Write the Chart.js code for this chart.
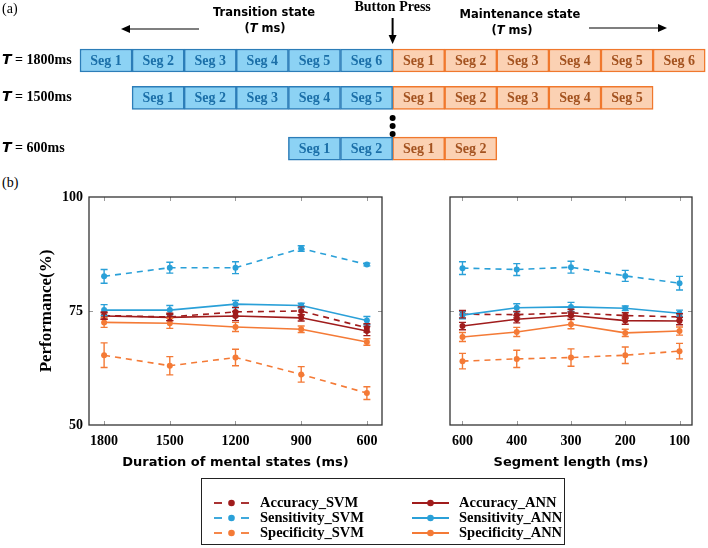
<!DOCTYPE html>
<html>
<head>
<meta charset="utf-8">
<script src="https://cdn.jsdelivr.net/npm/chart.js@4.4.1/dist/chart.umd.min.js"></script>
<style>
  html, body { margin: 0; padding: 0; background: #fff; }
  #page { position: relative; width: 708px; height: 548px; overflow: hidden; }
  canvas { position: absolute; }
  #panelB { position: absolute; left: 2px; top: 175px; font: 14px 'Liberation Serif', serif; color: #000; }
  #legend {
    position: absolute; left: 201px; top: 478px; width: 364px; height: 67px;
    border: 1px solid #222; box-sizing: border-box;
    font-family: 'Liberation Serif', serif; font-weight: bold; font-size: 14.5px; color: #000;
  }
  .item { position: absolute; height: 15px; line-height: 15px; white-space: nowrap; }
  .item svg { position: absolute; left: 0; top: 1px; }
  .item span { position: absolute; left: 47px; }
</style>
</head>
<body>
<div id="page">
  <canvas id="diagram" width="708" height="175" style="left:0;top:0"></canvas>
  <div id="panelB">(b)</div>
  <canvas id="leftChart" width="390" height="300" style="left:0;top:180px"></canvas>
  <canvas id="rightChart" width="318" height="300" style="left:390px;top:180px"></canvas>
  <div id="legend"></div>
</div>
<script>
// ---- panel (a): segments ----
const rowNames = ['1800ms', '1500ms', '600ms'];
const segCounts = [6, 5, 2];
const rowLevels = [0, 1, 2.36];
const pressAt = 6;

// ---- panel (b): performance ----
const xLeft = ['1800', '1500', '1200', '900', '600'];
const xRight = ['600', '400', '300', '200', '100'];

const accSvmL = [74.0, 73.7, 74.8, 75.0, 71.3];
const accSvmLErr = [0.8, 0.8, 1.0, 0.9, 0.9];
const accAnnL = [73.9, 73.6, 73.9, 73.5, 70.6];
const accAnnLErr = [0.7, 0.7, 1.0, 0.7, 1.0];
const senSvmL = [82.6, 84.5, 84.5, 88.7, 85.2];
const senSvmLErr = [1.5, 1.2, 1.3, 0.6, 0.3];
const senAnnL = [75.2, 75.2, 76.5, 76.2, 72.9];
const senAnnLErr = [1.2, 1.0, 0.8, 0.5, 0.9];
const speSvmL = [65.3, 63.0, 64.8, 61.1, 57.0];
const speSvmLErr = [2.7, 2.0, 1.8, 1.7, 1.4];
const speAnnL = [72.5, 72.3, 71.5, 71.0, 68.2];
const speAnnLErr = [1.1, 1.1, 1.0, 0.7, 0.7];

const accSvmR = [74.3, 74.2, 74.6, 74.0, 73.7];
const accSvmRErr = [0.8, 0.7, 0.8, 0.6, 0.7];
const accAnnR = [71.7, 73.2, 74.0, 72.9, 72.8];
const accAnnRErr = [0.8, 0.8, 0.8, 0.8, 0.8];
const senSvmR = [84.4, 84.1, 84.6, 82.7, 81.1];
const senSvmRErr = [1.4, 1.3, 1.3, 1.2, 1.5];
const senAnnR = [74.1, 75.7, 75.9, 75.6, 74.5];
const senAnnRErr = [0.8, 0.9, 1.0, 0.5, 0.7];
const speSvmR = [64.0, 64.5, 64.8, 65.3, 66.2];
const speSvmRErr = [1.7, 1.9, 1.9, 1.8, 1.7];
const speAnnR = [69.3, 70.4, 72.1, 70.2, 70.6];
const speAnnRErr = [1.0, 1.0, 1.0, 0.8, 0.9];

const RED = '#a01c1c';
const BLUE = '#2aa0d8';
const ORANGE = '#f47a36';
const SERIF = "'Liberation Serif', 'Times New Roman', serif";
const SANS = "'DejaVu Sans', sans-serif";

// ================= panel (a) =================
const transBars = [];
const maintBars = [];
segCounts.forEach((n, r) => {
  for (let k = 0; k < n; k++) {
    transBars.push({ x: [pressAt - n + k, pressAt - n + k + 1], y: rowLevels[r], seg: k + 1 });
    maintBars.push({ x: [pressAt + k, pressAt + k + 1], y: rowLevels[r], seg: k + 1 });
  }
});

function arrow(ctx, x1, y1, x2, y2) {
  const a = Math.atan2(y2 - y1, x2 - x1);
  ctx.beginPath();
  ctx.moveTo(x1, y1);
  ctx.lineTo(x2 - 6 * Math.cos(a), y2 - 6 * Math.sin(a));
  ctx.stroke();
  ctx.beginPath();
  ctx.moveTo(x2, y2);
  ctx.lineTo(x2 - 9 * Math.cos(a) + 4 * Math.sin(a), y2 - 9 * Math.sin(a) - 4 * Math.cos(a));
  ctx.lineTo(x2 - 9 * Math.cos(a) - 4 * Math.sin(a), y2 - 9 * Math.sin(a) + 4 * Math.cos(a));
  ctx.closePath();
  ctx.fill();
}

function tms(ctx, cx, y) {
  // "(T ms)" with italic T
  ctx.font = `bold 11.5px ${SANS}`;
  const w1 = ctx.measureText('(').width;
  const w3 = ctx.measureText(' ms)').width;
  ctx.font = `bold oblique 11.5px ${SANS}`;
  const w2 = ctx.measureText('T').width;
  let x = cx - (w1 + w2 + w3) / 2;
  ctx.textAlign = 'left';
  ctx.font = `bold 11.5px ${SANS}`;
  ctx.fillText('(', x, y);
  ctx.font = `bold oblique 11.5px ${SANS}`;
  ctx.fillText('T', x + w1, y);
  ctx.font = `bold 11.5px ${SANS}`;
  ctx.fillText(' ms)', x + w1 + w2, y);
}

const diagramPlugin = {
  id: 'diagramText',
  afterDatasetsDraw(chart) {
    const ctx = chart.ctx;
    const xs = chart.scales.x, ys = chart.scales.y;
    ctx.save();
    ctx.textBaseline = 'middle';
    ctx.textAlign = 'center';
    ctx.font = `bold 14px ${SERIF}`;
    chart.data.datasets.forEach((ds, di) => {
      ctx.fillStyle = di === 0 ? '#1b6fa8' : '#a3521f';
      chart.getDatasetMeta(di).data.forEach((el, i) => {
        const c = el.getCenterPoint();
        ctx.fillText('Seg ' + ds.data[i].seg, c.x, c.y + 1);
      });
    });

    // row labels
    ctx.fillStyle = '#000';
    rowNames.forEach((name, r) => {
      const y = ys.getPixelForValue(rowLevels[r]);
      ctx.textAlign = 'left';
      ctx.font = `bold oblique 14px ${SANS}`;
      ctx.fillText('T', 2, y);
      const wt = ctx.measureText('T').width;
      ctx.font = `bold 14px ${SERIF}`;
      ctx.fillText(' = ' + name, 2 + wt, y);
    });

    const px = xs.getPixelForValue(pressAt);
    ctx.textAlign = 'center';
    ctx.font = `bold 14px ${SERIF}`;
    ctx.fillText('Button Press', px, 7);
    ctx.strokeStyle = '#000';
    ctx.fillStyle = '#000';
    ctx.lineWidth = 2;
    arrow(ctx, px, 18, px, 44);

    ctx.lineWidth = 1.2;
    arrow(ctx, 199, 29, 121, 29);
    arrow(ctx, 589, 28, 667, 28);

    ctx.font = `bold 11.5px ${SANS}`;
    ctx.fillText('Transition state', 264, 13);
    tms(ctx, 265, 29);
    ctx.textAlign = 'center';
    ctx.fillText('Maintenance state', 520, 15);
    tms(ctx, 512, 31);

    // dots between rows
    [118, 126, 134].forEach(y => {
      ctx.beginPath();
      ctx.arc(px, y, 3, 0, Math.PI * 2);
      ctx.fill();
    });

    ctx.textAlign = 'left';
    ctx.font = `14px ${SERIF}`;
    ctx.fillText('(a)', 2, 9);
    ctx.restore();
  }
};

new Chart(document.getElementById('diagram'), {
  type: 'bar',
  data: {
    datasets: [
      { data: transBars, backgroundColor: '#8cd2f4', borderColor: '#2c7db8', borderWidth: 1.5, borderSkipped: false },
      { data: maintBars, backgroundColor: '#fbd1b3', borderColor: '#f0782d', borderWidth: 1.5, borderSkipped: false }
    ]
  },
  options: {
    responsive: false,
    animation: false,
    indexAxis: 'y',
    grouped: false,
    barThickness: 23,
    layout: { padding: 0 },
    plugins: { legend: { display: false }, tooltip: { enabled: false } },
    scales: {
      x: { type: 'linear', display: false, min: -80 / 52.1, max: 628 / 52.1 },
      y: { type: 'linear', display: false, reverse: true, min: -57.5 / 41.5, max: 117.5 / 41.5 }
    }
  },
  plugins: [diagramPlugin]
});

// ================= panel (b) =================
const errorBars = {
  id: 'errorBars',
  afterDatasetsDraw(chart) {
    const ctx = chart.ctx;
    const ys = chart.scales.y;
    ctx.save();
    chart.data.datasets.forEach((ds, di) => {
      const meta = chart.getDatasetMeta(di);
      ctx.strokeStyle = ds.borderColor;
      ctx.lineWidth = 1.4;
      ctx.setLineDash([]);
      meta.data.forEach((el, i) => {
        const v = ds.data[i].y, e = ds.err[i];
        const y1 = ys.getPixelForValue(v + e), y2 = ys.getPixelForValue(v - e);
        ctx.beginPath();
        ctx.moveTo(el.x, y1); ctx.lineTo(el.x, y2);
        ctx.moveTo(el.x - 3.5, y1); ctx.lineTo(el.x + 3.5, y1);
        ctx.moveTo(el.x - 3.5, y2); ctx.lineTo(el.x + 3.5, y2);
        ctx.stroke();
      });
    });
    ctx.restore();
  }
};

const frame = {
  id: 'frame',
  afterDraw(chart) {
    const ctx = chart.ctx;
    const a = chart.chartArea;
    const xs = chart.scales.x, ys = chart.scales.y;
    ctx.save();
    ctx.strokeStyle = '#999';
    ctx.lineWidth = 1;
    ctx.beginPath();
    xs.ticks.forEach(t => {
      const x = Math.round(xs.getPixelForValue(t.value)) + 0.5;
      ctx.moveTo(x, a.top); ctx.lineTo(x, a.top + 4);
      ctx.moveTo(x, a.bottom); ctx.lineTo(x, a.bottom - 4);
    });
    const y = Math.round(ys.getPixelForValue(75)) + 0.5;
    ctx.moveTo(a.left, y); ctx.lineTo(a.left + 4, y);
    ctx.moveTo(a.right, y); ctx.lineTo(a.right - 4, y);
    ctx.stroke();
    ctx.strokeStyle = '#333';
    ctx.lineWidth = 1.3;
    ctx.strokeRect(a.left, a.top, a.right - a.left, a.bottom - a.top);
    ctx.restore();
  }
};

function series(label, values, errs, color, dashed) {
  return {
    label: label,
    data: values.map((v, i) => ({ x: i, y: v })),
    err: errs,
    borderColor: color,
    backgroundColor: color,
    borderWidth: 1.6,
    borderDash: dashed ? [6, 5] : [],
    pointRadius: 3,
    pointBorderWidth: 0,
    pointBackgroundColor: color,
    fill: false,
    tension: 0
  };
}

function makePanel(id, xLabels, sets, showY, xTitle, pad) {
  return new Chart(document.getElementById(id), {
    type: 'line',
    data: { datasets: sets },
    options: {
      responsive: false,
      animation: false,
      layout: { padding: pad },
      plugins: { legend: { display: false }, tooltip: { enabled: false } },
      scales: {
        x: {
          type: 'linear',
          min: -0.23,
          max: 4.23,
          afterBuildTicks: s => { s.ticks = xLabels.map((_, i) => ({ value: i })); },
          ticks: {
            callback: v => xLabels[v],
            autoSkip: false,
            maxRotation: 0,
            padding: 8,
            color: '#000',
            font: { family: SERIF, weight: 'bold', size: 14 }
          },
          grid: { display: false, drawTicks: false },
          border: { display: false },
          title: {
            display: true,
            text: xTitle,
            color: '#000',
            font: { family: SANS, weight: 'bold', size: 13 },
            padding: { top: 0, bottom: 10 }
          },
          afterFit: s => { s.height = 55; }
        },
        y: {
          display: showY,
          min: 50,
          max: 100,
          ticks: {
            stepSize: 25,
            padding: 6,
            color: '#000',
            font: { family: SERIF, weight: 'bold', size: 14 }
          },
          grid: { display: false, drawTicks: false },
          border: { display: false },
          title: {
            display: true,
            text: 'Performance(%)',
            color: '#000',
            font: { family: SERIF, weight: 'bold', size: 17 },
            padding: 0
          },
          afterFit: s => { s.width = 53; }
        }
      }
    },
    plugins: [errorBars, frame]
  });
}

makePanel('leftChart', xLeft, [
  series('Specificity_SVM', speSvmL, speSvmLErr, ORANGE, true),
  series('Sensitivity_SVM', senSvmL, senSvmLErr, BLUE, true),
  series('Specificity_ANN', speAnnL, speAnnLErr, ORANGE, false),
  series('Sensitivity_ANN', senAnnL, senAnnLErr, BLUE, false),
  series('Accuracy_ANN', accAnnL, accAnnLErr, RED, false),
  series('Accuracy_SVM', accSvmL, accSvmLErr, RED, true)
], true, 'Duration of mental states (ms)', { left: 36, right: 8, top: 17, bottom: 0 });

makePanel('rightChart', xRight, [
  series('Specificity_SVM', speSvmR, speSvmRErr, ORANGE, true),
  series('Sensitivity_SVM', senSvmR, senSvmRErr, BLUE, true),
  series('Specificity_ANN', speAnnR, speAnnRErr, ORANGE, false),
  series('Sensitivity_ANN', senAnnR, senAnnRErr, BLUE, false),
  series('Accuracy_ANN', accAnnR, accAnnRErr, RED, false),
  series('Accuracy_SVM', accSvmR, accSvmRErr, RED, true)
], false, 'Segment length (ms)', { left: 7, right: 16, top: 17, bottom: 0 });

// ---- legend ----
const legendItems = [
  ['Accuracy_SVM', RED, true], ['Accuracy_ANN', RED, false],
  ['Sensitivity_SVM', BLUE, true], ['Sensitivity_ANN', BLUE, false],
  ['Specificity_SVM', ORANGE, true], ['Specificity_ANN', ORANGE, false]
];
const legend = document.getElementById('legend');
legendItems.forEach((it, i) => {
  const col = i % 2, row = Math.floor(i / 2);
  const d = document.createElement('div');
  d.className = 'item';
  d.style.left = (col === 0 ? 11 : 210) + 'px';
  d.style.top = (16 + row * 15) + 'px';
  const line = it[2]
    ? `<line x1="1" y1="7" x2="9" y2="7" stroke="${it[1]}" stroke-width="1.8"/><line x1="28" y1="7" x2="36" y2="7" stroke="${it[1]}" stroke-width="1.8"/>`
    : `<line x1="0" y1="7" x2="37" y2="7" stroke="${it[1]}" stroke-width="1.8"/>`;
  d.innerHTML = `<svg width="38" height="14">${line}<circle cx="18.5" cy="7" r="3.3" fill="${it[1]}"/></svg><span>${it[0]}</span>`;
  legend.appendChild(d);
});
</script>
</body>
</html>
